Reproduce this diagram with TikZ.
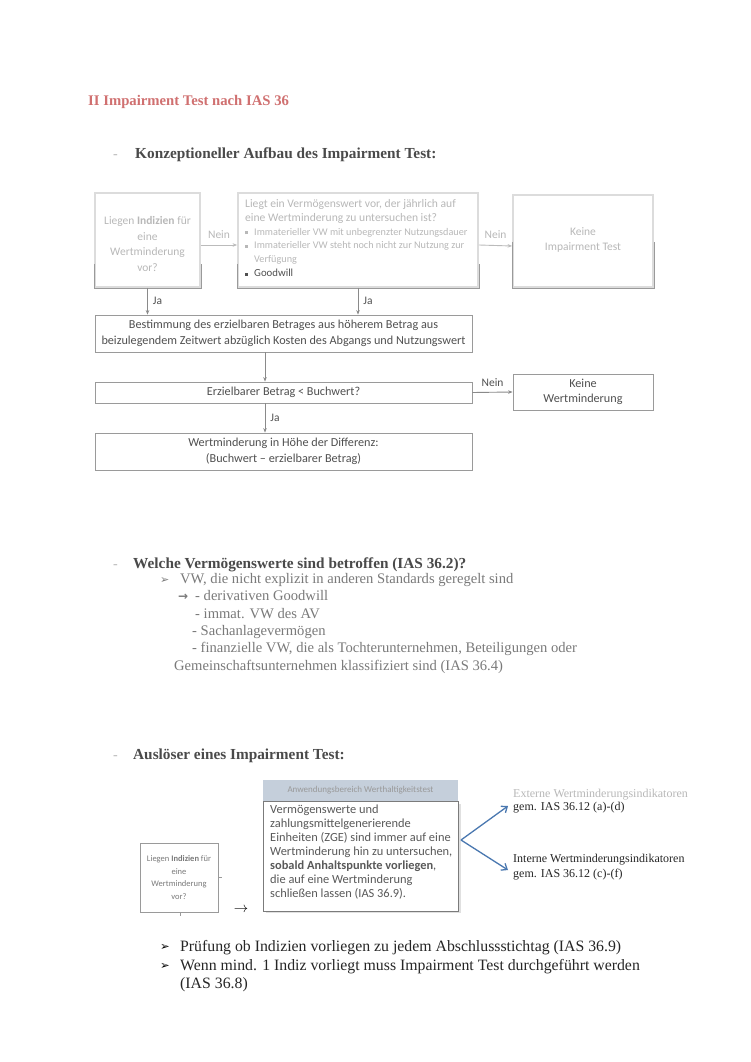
\documentclass[tikz,border=0pt]{standalone}
\usepackage{fontspec}
\setmainfont{Liberation Serif}
\newfontfamily\carl{Carlito}
\newfontfamily\dejavu{DejaVu Sans}
\usetikzlibrary{arrows.meta,calc}
\definecolor{ftext}{HTML}{505050}
\definecolor{fline}{HTML}{8A8A8A}
\definecolor{fbox}{HTML}{9A9A9A}
\definecolor{blurtxt}{HTML}{B8B8B8}
\definecolor{blurbox}{HTML}{DCDCDC}
\definecolor{titlered}{HTML}{D07070}
\definecolor{headgray}{HTML}{4A4A4A}
\definecolor{itemgray}{HTML}{7A7A7A}
\definecolor{hdrfill}{HTML}{C5CFDB}
\definecolor{chev}{HTML}{4A78B0}
\tikzset{
  fbx/.style={draw=fbox, line width=0.8pt, inner sep=0pt, align=center, text=ftext,
    font=\carl\fontsize{12.2}{15.5}\selectfont},
  bbx/.style={draw=blurbox, line width=1.8pt, inner sep=0pt},
  lowedge/.style={draw=fbox, line width=0.8pt},
  arr/.style={draw=fline, line width=0.9pt, -{Stealth[length=4.5pt,width=3.5pt]}},
  lbl/.style={text=ftext, font=\carl\fontsize{11.5}{13}\selectfont, inner sep=1pt},
  blbl/.style={text=blurtxt, font=\carl\fontsize{11.5}{13}\selectfont, inner sep=1pt},
  head/.style={anchor=base west, inner sep=0pt, text=headgray, font=\bfseries\fontsize{15.3}{17}\selectfont},
  dsh/.style={anchor=base west, inner sep=0pt, text=blurtxt, font=\fontsize{14}{16}\selectfont},
  itm/.style={anchor=base west, inner sep=0pt, text=itemgray, font=\fontsize{14.6}{16}\selectfont},
  body/.style={anchor=base west, inner sep=0pt, text=black!85, font=\fontsize{15.8}{18}\selectfont},
  small/.style={anchor=base west, inner sep=0pt, text=black!85, font=\fontsize{12}{13}\selectfont},
  chevarr/.style={draw=chev, line width=1.3pt, -{Straight Barb[length=5pt,width=8pt]}}
}
\begin{document}
\begin{tikzpicture}[x=1pt,y=-1pt]
\useasboundingbox[fill=white] (0,0) rectangle (750,1062);

% ---------- Title ----------
\node[anchor=base west, inner sep=0pt, text=titlered, font=\bfseries\fontsize{14.7}{16}\selectfont] (title) at (88,106) {II Impairment Test nach IAS 36};

% ---------- Section 1 ----------
\node[dsh] (d1) at (113,158) {-};
\node[head] (h1) at (135,158) {Konzeptioneller Aufbau des Impairment Test:};

\node[bbx, minimum width=105pt, minimum height=94pt] (A) at (147.5,240) {};
\draw[lowedge] ($(A.south west)+(0,-24)$) -- (A.south west) -- (A.south east) -- ($(A.south east)+(0,-24)$);
\node[text=blurtxt, align=center, font=\carl\fontsize{11.5}{15.5}\selectfont, inner sep=0pt] (At) at (147.5,244)
  {Liegen \textbf{Indizien} für\\eine\\Wertminderung\\vor?};

\node[bbx, minimum width=240pt, minimum height=94pt] (B) at (358,240) {};
\draw[lowedge] ($(B.south west)+(0,-24)$) -- (B.south west) -- (B.south east) -- ($(B.south east)+(0,-24)$);
\node[anchor=north west, inner sep=0pt, align=left, text=blurtxt, font=\carl\fontsize{11.6}{13.9}\selectfont] (Bt) at (245,199)
  {Liegt ein Vermögenswert vor, der jährlich auf\\
   eine Wertminderung zu untersuchen ist?\\
   \rule[1pt]{3pt}{3pt}\hspace{6pt}\fontsize{10.2}{13.9}\selectfont Immaterieller VW mit unbegrenzter Nutzungsdauer\\
   \rule[1pt]{3pt}{3pt}\hspace{6pt}\fontsize{10.2}{13.9}\selectfont Immaterieller VW steht noch nicht zur Nutzung zur\\
   \hspace*{9pt}\fontsize{10.2}{13.9}\selectfont Verfügung\\
   \textcolor{ftext}{\rule[1pt]{3pt}{3pt}\hspace{6pt}\fontsize{10.8}{13.9}\selectfont Goodwill}};

\node[bbx, minimum width=140pt, minimum height=92pt] (C) at (583,241) {};
\draw[lowedge] ($(C.south west)+(0,-46)$) -- (C.south west) -- (C.south east) -- ($(C.south east)+(0,-46)$);
\node[text=blurtxt, align=center, font=\carl\fontsize{11.5}{15}\selectfont, inner sep=0pt] (Ct) at (583,240)
  {Keine\\Impairment Test};

\draw[arr, draw=blurbox!85!black] ($(A.east)+(0,5)$) -- ($(B.west)+(0,5)$) node[blbl, midway, above=5pt] (n1) {Nein};
\draw[arr, draw=blurbox!85!black] ($(B.east)+(0,5)$) -- ($(C.west)+(0,5)$) node[blbl, midway, above=5pt] (n2) {Nein};

\node[fbx, minimum width=377pt, minimum height=37pt] (D) at (283.5,333.5)
  {Bestimmung des erzielbaren Betrages aus höherem Betrag aus\\beizulegendem Zeitwert abzüglich Kosten des Abgangs und Nutzungswert};

\draw[arr] (A.south) -- (A.south |- D.north) node[lbl, midway, right=4pt] (j1) {Ja};
\draw[arr] (B.south) -- (B.south |- D.north) node[lbl, midway, right=4pt] (j2) {Ja};

\node[fbx, minimum width=377pt, minimum height=21pt] (E) at (283.5,392.5) {Erzielbarer Betrag < Buchwert?};
\node[fbx, minimum width=140pt, minimum height=36pt] (F) at (583,392) {Keine\\Wertminderung};
\node[fbx, minimum width=377pt, minimum height=37pt] (G) at (283.5,451.5)
  {Wertminderung in Höhe der Differenz:\\(Buchwert – erzielbarer Betrag)};

\draw[arr] ($(D.south)+(-18.5,0)$) -- ($(E.north)+(-18.5,0)$);
\draw[arr] (E.east) -- (F.west) node[lbl, midway, above=4pt] (n3) {Nein};
\draw[arr] ($(E.south)+(-18.5,0)$) -- ($(G.north)+(-18.5,0)$) node[lbl, midway, right=4pt] (j3) {Ja};

% ---------- Section 2 ----------
\node[dsh] (d2) at (113,568) {-};
\node[head] (h2) at (133,568) {Welche Vermögenswerte sind betroffen (IAS 36.2)?};
\node[anchor=base west, inner sep=0pt, text=itemgray, font=\dejavu\fontsize{11}{14}\selectfont] (a1) at (160,583) {➢};
\node[itm] (i1) at (180,583) {VW, die nicht explizit in anderen Standards geregelt sind};
\node[anchor=base west, inner sep=0pt, text=itemgray, font=\dejavu\bfseries\fontsize{12}{14}\selectfont] (a2) at (178,600) {→};
\node[itm] (i2) at (195,600) {- derivativen Goodwill};
\node[itm] (i3) at (195,618) {- immat. VW des AV};
\node[itm] (i4) at (192,635) {- Sachanlagevermögen};
\node[itm] (i5) at (192,652) {- finanzielle VW, die als Tochterunternehmen, Beteiligungen oder};
\node[itm] (i6) at (174,670) {Gemeinschaftsunternehmen klassifiziert sind (IAS 36.4)};

% ---------- Section 3 ----------
\node[dsh] (d3) at (113,759) {-};
\node[head] (h3) at (133,759) {Auslöser eines Impairment Test:};

\node[draw=fbox, line width=0.7pt, minimum width=78pt, minimum height=69pt, inner sep=0pt, align=center,
  text=itemgray, font=\carl\fontsize{8.5}{12.6}\selectfont] (H) at (179,877.5)
  {Liegen \textbf{Indizien} für\\eine\\Wertminderung\\vor?};
\coordinate (Hr) at ($(H.east)+(4,0)$);
\coordinate (Hb) at ($(H.south)+(1,4)$);
\draw[draw=fbox, line width=0.6pt] (H.east) -- (Hr);
\draw[draw=fbox, line width=0.6pt] ($(H.south)+(1,0)$) -- (Hb);
\node[inner sep=0pt, font=\fontsize{14}{14}\selectfont] (ar) at (241,910) {$\rightarrow$};

\node[draw=none, fill=hdrfill, minimum width=195pt, minimum height=21pt, inner sep=0pt,
  text=black!40, font=\carl\fontsize{9}{11}\selectfont] (K) at (360.5,790.5) {Anwendungsbereich Werthaltigkeitstest};
\fill[black!12] (266,804) rectangle (461,913);
\node[draw=fbox!80!black, fill=white, line width=0.8pt, minimum width=195pt, minimum height=110pt, inner sep=0pt] (M) at (360.5,856) {};
\node[anchor=north west, inner sep=0pt, align=left, text=black!65, font=\carl\fontsize{12.4}{14}\selectfont] (Mt) at (270,805)
  {Vermögenswerte und\\
   zahlungsmittelgenerierende\\
   Einheiten (ZGE) sind immer auf eine\\
   Wertminderung hin zu untersuchen,\\
   \textbf{sobald Anhaltspunkte vorliegen},\\
   die auf eine Wertminderung\\
   schließen lassen (IAS 36.9).};

\coordinate (apex) at (461,840);
\node[small, text=blurtxt] (x1) at (513,797) {Externe Wertminderungsindikatoren};
\node[small] (x2) at (513,810) {gem. IAS 36.12 (a)-(d)};
\node[small] (y1) at (513,862) {Interne Wertminderungsindikatoren};
\node[small] (y2) at (513,877) {gem. IAS 36.12 (c)-(f)};
\coordinate (tipU) at (508,806);
\coordinate (tipL) at (508,870);
\draw[chevarr] (apex) -- (tipU);
\draw[chevarr] (apex) -- (tipL);

% ---------- Bottom bullets ----------
\node[anchor=base west, inner sep=0pt, font=\dejavu\fontsize{11.5}{14}\selectfont] (b1) at (160,950) {➢};
\node[body] (t1) at (180,951) {Prüfung ob Indizien vorliegen zu jedem Abschlussstichtag (IAS 36.9)};
\node[anchor=base west, inner sep=0pt, font=\dejavu\fontsize{11.5}{14}\selectfont] (b2) at (160,969) {➢};
\node[body] (t2) at (180,970) {Wenn mind. 1 Indiz vorliegt muss Impairment Test durchgeführt werden};
\node[body] (t3) at (180,988) {(IAS 36.8)};
\end{tikzpicture}
\end{document}
